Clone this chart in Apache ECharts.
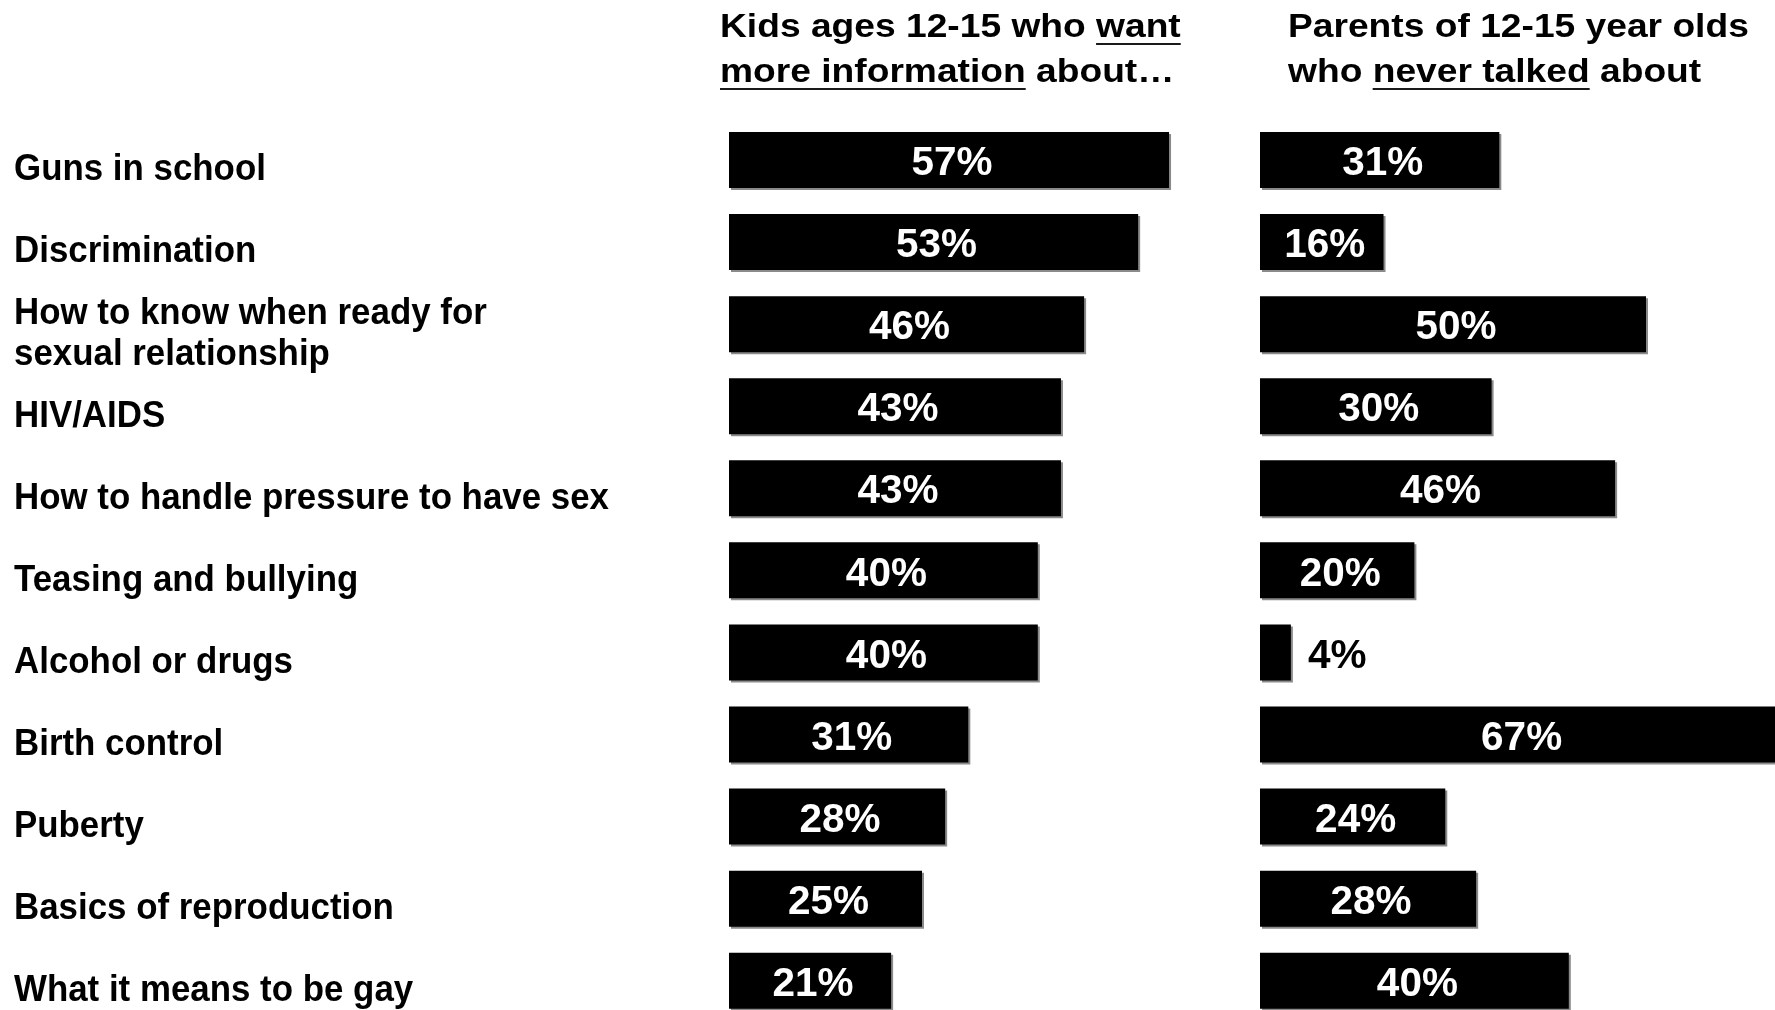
<!DOCTYPE html>
<html>
<head>
<meta charset="utf-8">
<script src="https://cdn.jsdelivr.net/npm/echarts@6/dist/echarts.min.js"></script>
<style>
  html, body { margin: 0; padding: 0; background: #fff; }
  #chart { width: 1775px; height: 1010px; }
</style>
</head>
<body>
<div id="chart"></div>
<script>
// Topics, top to bottom
const topics = [
  'Guns in school',
  'Discrimination',
  'How to know when ready for\nsexual relationship',
  'HIV/AIDS',
  'How to handle pressure to have sex',
  'Teasing and bullying',
  'Alcohol or drugs',
  'Birth control',
  'Puberty',
  'Basics of reproduction',
  'What it means to be gay'
];

// Percent of kids 12-15 who want more information about each topic
const kidsWantInfo = [57, 53, 46, 43, 43, 40, 40, 31, 28, 25, 21];

// Percent of parents of 12-15 year olds who never talked about each topic
const parentsNeverTalked = [31, 16, 50, 30, 46, 20, 4, 67, 24, 28, 40];

// Column headings: each line is a list of [text, underlined]
const kidsHeading = [
  [['Kids ages 12-15 who ', false], ['want', true]],
  [['more information', true], [' about…', false]]
];
const parentsHeading = [
  [['Parents of 12-15 year olds', false]],
  [['who ', false], ['never talked', true], [' about', false]]
];

const FONT_FAMILY = '"Liberation Sans", Arial, Helvetica, sans-serif';
const PX_PER_PCT = 7.72;
const FIRST_ROW_Y = 160;
const ROW_STEP = 82.07;

const chart = echarts.init(document.getElementById('chart'), null, { renderer: 'canvas' });

// Measure text widths so underlines sit under the right words
const measureCtx = document.createElement('canvas').getContext('2d');
function textWidth(str, font) {
  measureCtx.font = font;
  return measureCtx.measureText(str).width;
}

// A two-line heading drawn as a slightly widened group of text runs
function heading(lines, x, firstCenterY, lineGap, fontSize, stretch) {
  const font = 'bold ' + fontSize + 'px ' + FONT_FAMILY;
  const children = [];
  lines.forEach((segs, i) => {
    const cy = firstCenterY + i * lineGap;
    let cx = 0;
    segs.forEach(([txt, under]) => {
      const w = textWidth(txt, font);
      children.push({
        type: 'text',
        style: { x: cx, y: cy, text: txt, font: font, fill: '#000',
                 textAlign: 'left', textVerticalAlign: 'middle' }
      });
      if (under) {
        children.push({
          type: 'rect',
          shape: { x: cx, y: cy + fontSize * 0.3465 + 4, width: w, height: 2 },
          style: { fill: '#1a1a1a' }
        });
      }
      cx += w;
    });
  });
  return { type: 'group', x: x, y: 0, scaleX: stretch, children: children };
}

function barData(values) {
  return values.map(v => v < 8
    ? { value: v, label: { position: 'right', distance: 14, color: '#000' } }
    : v);
}

const barItemStyle = {
  color: '#000',
  shadowColor: '#8a8a8a',
  shadowOffsetX: 2,
  shadowOffsetY: 2,
  shadowBlur: 0
};

const valueLabel = {
  show: true,
  position: 'inside',
  offset: [3, 4],
  color: '#fff',
  fontFamily: FONT_FAMILY,
  fontWeight: 'bold',
  fontSize: 40.5,
  formatter: p => p.value + '%'
};

const rowsSpan = ROW_STEP * (topics.length - 1);

const categoryAxisBase = {
  type: 'category', data: topics, inverse: true, boundaryGap: false,
  axisLine: { show: false }, axisTick: { show: false },
  splitLine: { show: false }, axisLabel: { show: false }
};

const option = {
  backgroundColor: '#fff',
  animation: false,
  grid: [
    { left: 729, top: FIRST_ROW_Y, width: PX_PER_PCT * 60, height: rowsSpan },
    { left: 1260, top: FIRST_ROW_Y, width: PX_PER_PCT * 66.6, height: rowsSpan }
  ],
  xAxis: [
    { type: 'value', gridIndex: 0, min: 0, max: 60, show: false },
    { type: 'value', gridIndex: 1, min: 0, max: 66.6, show: false }
  ],
  yAxis: [
    Object.assign({ gridIndex: 0 }, categoryAxisBase),
    Object.assign({ gridIndex: 1 }, categoryAxisBase)
  ],
  series: [
    {
      name: 'Kids ages 12-15 who want more information about',
      type: 'bar', xAxisIndex: 0, yAxisIndex: 0, clip: false,
      barWidth: 56, data: barData(kidsWantInfo),
      itemStyle: barItemStyle, label: valueLabel
    },
    {
      name: 'Parents of 12-15 year olds who never talked about',
      type: 'bar', xAxisIndex: 1, yAxisIndex: 1, clip: false,
      barWidth: 56, data: barData(parentsNeverTalked),
      itemStyle: barItemStyle, label: valueLabel
    }
  ]
};

chart.setOption(option);

// Topic names, placed on each row of the category axis, in a narrow bold face
const topicFont = 'bold 37.5px ' + FONT_FAMILY;
const topicLabels = topics.map((name, i) => ({
  type: 'text',
  x: 14,
  y: chart.convertToPixel({ yAxisIndex: 0 }, i) + 10,
  scaleX: 0.93,
  style: { x: 0, y: 0, text: name, font: topicFont, fill: '#000',
           textAlign: 'left', textVerticalAlign: 'middle', lineHeight: 41 }
}));

chart.setOption({
  graphic: [
    heading(kidsHeading, 720, 27.8, 45, 32.5, 1.144),
    heading(parentsHeading, 1288, 27.8, 45, 32.5, 1.144)
  ].concat(topicLabels)
});
</script>
</body>
</html>
